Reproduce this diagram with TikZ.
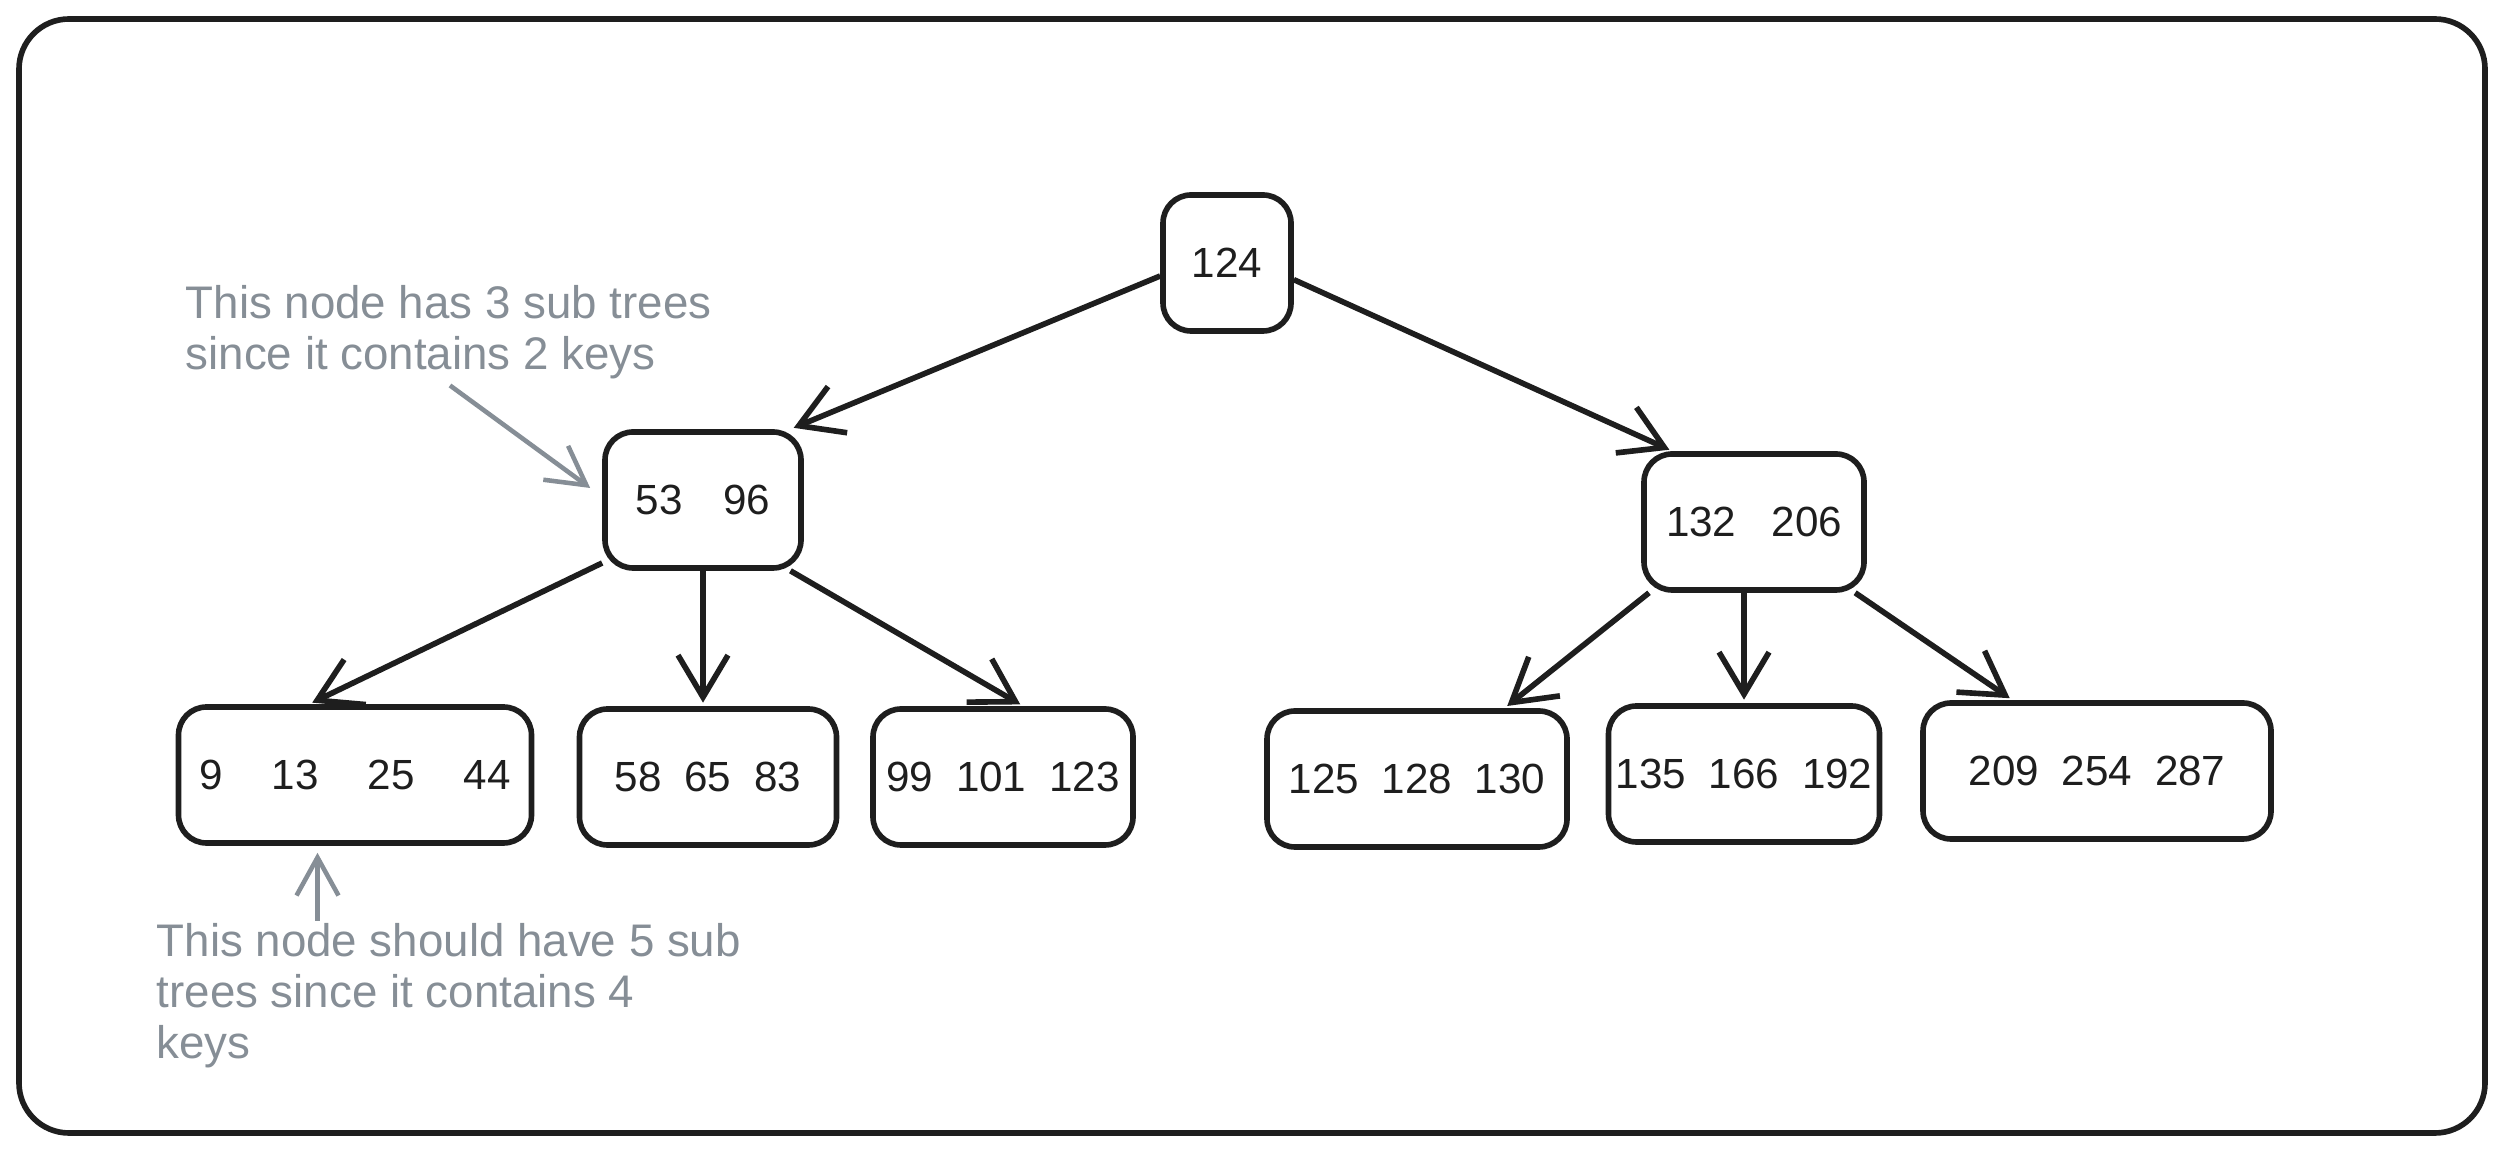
\documentclass[tikz,border=0pt]{standalone}
\usepackage{fontspec}
\setmainfont{Liberation Sans}
\usetikzlibrary{arrows.meta,positioning,calc}
\definecolor{ink}{HTML}{1E1E1E}
\definecolor{notegray}{HTML}{868E96}
\newcommand{\ks}[1][6.5pt]{\hspace{#1}}

\begin{document}
\begin{tikzpicture}[
  >={Straight Barb[length=4.2mm,width=5mm]},
  key/.style={draw=ink, text=ink, line width=1.6pt, rounded corners=2.8mm, minimum height=1.36cm, inner sep=0pt, font=\fontsize{12}{14}\selectfont},
  edge/.style={->, draw=ink, line width=1.6pt, shorten >=1pt},
  note/.style={align=left, inner sep=0pt, text=notegray, font=\fontsize{13}{14.5}\selectfont},
  notearr/.style={-{Straight Barb[length=3.8mm,width=4.2mm]}, draw=notegray, line width=1.3pt}]
  \useasboundingbox (0,0) rectangle (25.03,11.52);
  \draw[ink, line width=1.6pt, rounded corners=5mm] (0.19,0.19) rectangle (24.85,11.33);
  % inner nodes
  \node[key, minimum width=1.28cm] (root) at (12.27,8.89) {124};
  \node[key, minimum width=1.96cm] (k53) at (7.03,6.52) {53\ks[11.5pt]96};
  \node[key, minimum width=2.20cm] (k132) at (17.54,6.30) {132\ks[10pt]206};
  % leaves
  \foreach \nm/\x/\y/\w/\txt in {
      l1/3.55/3.77/3.53/{9\ks[14pt]13\ks[14pt]25\ks[14pt]44},
      l2/7.08/3.75/2.57/{58\ks65\ks83},
      l3/10.03/3.75/2.60/{99\ks101\ks123},
      l4/14.17/3.73/3.00/{125\ks128\ks130},
      l5/17.44/3.78/2.71/{135\ks166\ks192},
      l6/20.97/3.81/3.48/{209\ks254\ks287}}
    \node[key, minimum width=\w cm] (\nm) at (\x,\y) {\txt};
  \draw[edge] (root.191) -- (k53.39);
  \draw[edge] (root.346) -- (k132.139);
  \draw[edge] (k53.212) -- (l1.123);
  \draw[edge] (k53.south) -- (k53.south |- l2.north);
  \draw[edge] (k53.321) -- (l3.74);
  \draw[edge] (k132.214) -- (l4.39);
  \draw[edge] (l5.north |- k132.south) -- (l5.north);
  \draw[edge] (k132.325) -- (l6.140);
  % notes
  \node[note, anchor=west] (note1) at (1.85,8.20) {This node has 3 sub trees\\since it contains 2 keys};
  \node[note, anchor=west] (note2) at (1.56,1.56) {This node should have 5 sub\\trees since it contains 4\\keys};
  \draw[notearr] ([xshift=2.65cm,yshift=-0.06cm]note1.south west) -- ([xshift=-0.12cm,yshift=0.12cm]k53.west);
  \draw[notearr] ($(l1.south)+(-0.375,-0.75)$) -- ([xshift=-0.375cm,yshift=-0.07cm]l1.south);
\end{tikzpicture}
\end{document}
